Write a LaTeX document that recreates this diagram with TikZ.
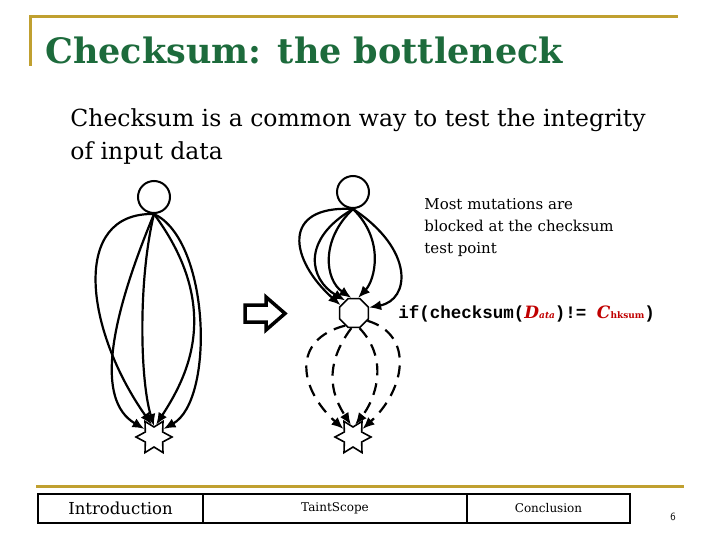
\documentclass[tikz,border=0pt]{standalone}
\usepackage{fontspec}
\setmainfont{DejaVu Serif}
\setmonofont{Liberation Mono}
\usetikzlibrary{shapes.geometric, arrows.meta}

\begin{document}
\begin{tikzpicture}[x=1pt, y=-1pt, >={Latex[length=12pt,width=10pt]}, thick]

  % Colors
  \definecolor{goldline}{HTML}{C0A030}
  \definecolor{titlegreen}{HTML}{1D6B3C}
  \definecolor{codered}{HTML}{C00000}

  \tikzset{
    vertex/.style={circle, draw, line width=2pt, minimum size=32pt, inner sep=0pt},
    sink/.style={star, star points=6, star point ratio=1.8, shape border rotate=30,
      draw, line width=1.6pt, minimum size=36pt, inner sep=0pt},
    check/.style={regular polygon, regular polygon sides=8, draw, line width=1.6pt,
      minimum size=31pt, inner sep=0pt},
    edge/.style={->, line width=2.2pt},
    dedge/.style={edge, dash pattern=on 12pt off 8pt},
    navcell/.style={draw, line width=2pt, minimum height=29pt, inner sep=0pt},
  }

  \useasboundingbox (0,0) rectangle (720,540);

  % PART 1: Slide frame and title
  \draw[goldline, line width=3pt] (30,66) -- (30,17) -- (678,17);
  \node[anchor=base west, inner sep=0pt, text=titlegreen,
    font=\fontsize{35}{40}\selectfont\bfseries] (title) at (45,64) {Checksum: the bottleneck};
  \node[anchor=base west, inner sep=0pt, font=\fontsize{23.5}{26}\selectfont] (line1) at (70,127)
    {Checksum is a common way to test the integrity};
  \node[anchor=base west, inner sep=0pt, font=\fontsize{23.5}{26}\selectfont] (line2) at (70,160)
    {of input data};

  % PART 2: Graph without checksum
  \node[vertex] (src1) at (154,197) {};
  \node[sink] (sink1) at (154,437) {};
  \draw[edge] (src1.south) .. controls (70,212) and (85,330) .. (sink1.100);
  \draw[edge] (src1.south) .. controls (110,320) and (95,400) .. (sink1.140);
  \draw[edge] (src1.south) .. controls (138,280) and (140,380) .. (sink1.90);
  \draw[edge] (src1.south) .. controls (225,310) and (185,380) .. (sink1.80);
  \draw[edge] (src1.south) .. controls (210,240) and (215,400) .. (sink1.40);

  % Block arrow
  \draw[line width=3.5pt, line join=miter] (245,305) -- (266,305) -- (266,297) -- (285,313.5)
    -- (266,330) -- (266,322) -- (245,322) -- cycle;

  % PART 3: Graph with checksum test point
  \node[vertex] (src2) at (353,192) {};
  \node[check] (chk) at (354,313) {};
  \node[sink] (sink2) at (353,437) {};
  \draw[edge] (src2.south) .. controls (280,205) and (290,260) .. (chk.150);
  \draw[edge] (src2.south) .. controls (300,240) and (310,280) .. (chk.125);
  \draw[edge] (src2.south) .. controls (320,240) and (325,280) .. (chk.100);
  \draw[edge] (src2.south) .. controls (385,240) and (375,280) .. (chk.75);
  \draw[edge] (src2.south) .. controls (415,250) and (410,300) .. (chk.20);
  \draw[dedge] (chk.235) .. controls (290,340) and (300,390) .. (sink2.140);
  \draw[dedge] (chk.260) .. controls (320,370) and (335,400) .. (sink2.100);
  \draw[dedge] (chk.290) .. controls (390,360) and (375,400) .. (sink2.80);
  \draw[dedge] (chk.330) .. controls (415,335) and (405,390) .. (sink2.40);

  \node[anchor=north west, align=left, inner sep=0pt, font=\fontsize{15}{22}\selectfont] (note)
    at (424,198) {Most mutations are\\blocked at the checksum\\test point};
  \node[anchor=base west, inner sep=0pt, font=\ttfamily\bfseries\fontsize{17.5}{20}\selectfont]
    (iftest) at (398,318) {if(checksum(\textcolor{codered}{\rmfamily\itshape\fontsize{17}{18}\selectfont
    D\fontsize{9}{10}\selectfont ata})!= \textcolor{codered}{\rmfamily\itshape\fontsize{17}{18}\selectfont
    C\upshape\fontsize{9}{10}\selectfont hksum})};

  % PART 4: Footer
  \draw[goldline, line width=3pt] (36,486) -- (684,486);
  \node[navcell, minimum width=165pt, font=\fontsize{16.5}{18}\selectfont] (intro) at (120.5,508.5)
    {Introduction};
  \node[navcell, minimum width=264pt, font=\fontsize{12}{14}\selectfont] (taint) at (335,508.5)
    {TaintScope};
  \node[navcell, minimum width=163pt, font=\fontsize{12}{14}\selectfont] (concl) at (548.5,508.5)
    {Conclusion};
  \node[font=\sffamily\fontsize{11}{12}\selectfont] (pagenum) at (673,517) {6};

\end{tikzpicture}
\end{document}
